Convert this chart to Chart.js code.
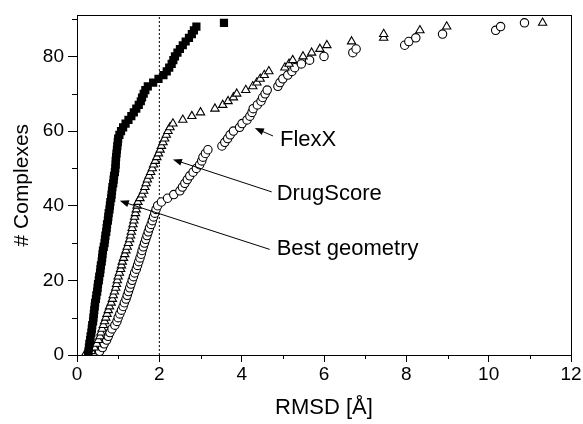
<!DOCTYPE html>
<html><head><meta charset="utf-8">
<script src="https://cdn.jsdelivr.net/npm/chart.js@4/dist/chart.umd.min.js"></script>
<style>html,body{margin:0;padding:0;background:#fff;}#wrap{width:583px;height:424px;}</style>
</head><body><div id="wrap"><canvas id="c" width="583" height="424"></canvas></div>
<script>
// cumulative number of complexes (y) for each sorted RMSD value
const complexCount = [0,1,2,3,4,5,6,7,8,9,10,11,12,13,14,15,16,17,18,19,20,21,22,23,24,25,26,27,28,29,30,31,32,33,34,35,36,37,38,39,40,41,42,43,44,45,46,47,48,49,50,51,52,53,54,55,56,57,58,59,60,61,62,63,64,65,66,67,68,69,70,71,72,73,74,75,76,77,78,79,80,81,82,83,84,85,86,87,88,89];

// RMSD [Å] values (sorted) per series
const bestGeometryRmsd = [0.27,0.28,0.29,0.30,0.32,0.33,0.35,0.36,0.37,0.39,0.40,0.41,0.42,0.43,0.44,0.46,0.47,0.49,0.50,0.51,0.53,0.54,0.56,0.57,0.58,0.60,0.61,0.62,0.63,0.65,0.67,0.68,0.69,0.71,0.72,0.73,0.75,0.76,0.77,0.79,0.80,0.81,0.83,0.84,0.85,0.86,0.88,0.89,0.90,0.92,0.93,0.94,0.94,0.95,0.96,0.97,0.98,0.99,1.00,1.03,1.07,1.12,1.18,1.25,1.32,1.38,1.44,1.50,1.55,1.58,1.62,1.66,1.72,1.85,1.98,2.10,2.18,2.24,2.30,2.34,2.38,2.44,2.50,2.57,2.64,2.72,2.79,2.84,2.90,3.57];

const drugScoreRmsd = [0.19,0.35,0.42,0.48,0.52,0.56,0.58,0.61,0.64,0.67,0.70,0.73,0.76,0.79,0.83,0.86,0.88,0.91,0.94,0.96,0.98,1.00,1.03,1.06,1.08,1.10,1.13,1.16,1.19,1.22,1.25,1.28,1.30,1.32,1.34,1.36,1.38,1.40,1.42,1.44,1.46,1.48,1.53,1.58,1.62,1.65,1.68,1.71,1.75,1.79,1.83,1.86,1.90,1.94,1.98,2.02,2.05,2.09,2.13,2.17,2.21,2.26,2.33,2.57,2.79,3.00,3.35,3.54,3.67,3.80,3.88,4.10,4.27,4.37,4.45,4.55,4.66,5.05,5.15,5.24,5.49,5.70,5.90,6.07,6.67,7.45,7.45,8.33,8.98,11.31];

const flexXRmsd = [0.45,0.55,0.62,0.66,0.72,0.76,0.80,0.85,0.92,0.97,1.00,1.04,1.08,1.12,1.15,1.19,1.22,1.25,1.28,1.31,1.34,1.37,1.40,1.44,1.47,1.50,1.53,1.56,1.58,1.61,1.64,1.67,1.70,1.73,1.76,1.80,1.83,1.86,1.89,1.92,1.96,2.05,2.20,2.35,2.50,2.56,2.62,2.68,2.74,2.82,2.90,2.98,3.03,3.06,3.12,3.18,3.52,3.59,3.66,3.72,3.80,3.95,4.01,4.13,4.20,4.25,4.28,4.38,4.47,4.51,4.57,4.62,4.88,4.93,5.00,5.12,5.22,5.29,5.45,5.65,6.00,6.70,6.78,7.96,8.06,8.23,8.88,10.17,10.29,10.87];

const xTickLabels = [0,2,4,6,8,10,12];
const yTickLabels = [0,20,40,60,80];
const cutoffRmsd = 2;

// label annotations (data coordinates)
const labelTexts = ['FlexX','DrugScore','Best geometry'];
const labelAnchors = [[4.93,57.6],[4.85,43.2],[4.85,28.4]];
const arrowTails = [[4.76,58.7],[4.73,43.7],[4.68,28.3]];
const arrowHeads = [[4.32,60.8],[2.33,52.4],[1.04,41.3]];

const FONT = "'Liberation Sans', Arial, Helvetica, sans-serif";
const toPts = (xs) => xs.map((x, i) => ({x: x, y: complexCount[i]}));

const decor = {
  id: 'decor',
  afterDatasetsDraw(chart) {
    const ctx = chart.ctx, a = chart.chartArea;
    const xs = chart.scales.x, ys = chart.scales.y;
    ctx.save();
    ctx.strokeStyle = '#000'; ctx.lineWidth = 1;
    ctx.strokeRect(Math.round(a.left) + 0.5, Math.round(a.top) + 0.5, Math.round(a.right - a.left), Math.round(a.bottom - a.top));
    // minor ticks
    ctx.beginPath();
    for (let v = 1; v < 12; v += 2) {
      const px = Math.round(xs.getPixelForValue(v)) + 0.5;
      ctx.moveTo(px, a.bottom); ctx.lineTo(px, a.bottom + 4);
    }
    for (let v = 10; v <= 90; v += 20) {
      const py = Math.round(ys.getPixelForValue(v)) + 0.5;
      ctx.moveTo(a.left - 5, py); ctx.lineTo(a.left, py);
    }
    ctx.stroke();
    // arrows + labels
    ctx.fillStyle = '#000';
    ctx.font = '22px ' + FONT;
    ctx.textBaseline = 'middle';
    ctx.textAlign = 'left';
    for (let i = 0; i < labelTexts.length; i++) {
      const x1 = xs.getPixelForValue(arrowTails[i][0]), y1 = ys.getPixelForValue(arrowTails[i][1]);
      const x2 = xs.getPixelForValue(arrowHeads[i][0]), y2 = ys.getPixelForValue(arrowHeads[i][1]);
      const ang = Math.atan2(y2 - y1, x2 - x1);
      const L = 9, W = 3.5;
      ctx.beginPath(); ctx.moveTo(x1, y1);
      ctx.lineTo(x2 - Math.cos(ang) * L * 0.8, y2 - Math.sin(ang) * L * 0.8);
      ctx.stroke();
      ctx.beginPath();
      ctx.moveTo(x2, y2);
      ctx.lineTo(x2 - Math.cos(ang) * L - Math.sin(ang) * W, y2 - Math.sin(ang) * L + Math.cos(ang) * W);
      ctx.lineTo(x2 - Math.cos(ang) * L + Math.sin(ang) * W, y2 - Math.sin(ang) * L - Math.cos(ang) * W);
      ctx.closePath(); ctx.fill();
      ctx.fillText(labelTexts[i], xs.getPixelForValue(labelAnchors[i][0]), ys.getPixelForValue(labelAnchors[i][1]));
    }
    ctx.restore();
  }
};

new Chart(document.getElementById('c'), {
  type: 'scatter',
  data: {
    datasets: [
      {label: 'Best geometry', data: toPts(bestGeometryRmsd), pointStyle: 'rect', pointRadius: 5.8, backgroundColor: '#000', borderColor: '#000', borderWidth: 0},
      {label: 'DrugScore', data: toPts(drugScoreRmsd), pointStyle: 'triangle', pointRadius: 4.8, backgroundColor: '#fff', borderColor: '#000', borderWidth: 1.1},
      {label: 'FlexX', data: toPts(flexXRmsd), pointStyle: 'circle', pointRadius: 4.2, backgroundColor: '#fff', borderColor: '#000', borderWidth: 1.1},
      {label: 'cutoff', type: 'line', data: [{x: cutoffRmsd, y: 0}, {x: cutoffRmsd, y: 91}], borderColor: '#000', borderWidth: 1, borderDash: [2, 2], pointRadius: 0, fill: false}
    ]
  },
  options: {
    responsive: false, animation: false,
    layout: {padding: {top: 12, right: 12, left: 0, bottom: 0}},
    plugins: {legend: {display: false}, tooltip: {enabled: false}},
    scales: {
      x: {
        type: 'linear', min: 0, max: 12,
        afterFit: (s) => { s.height = 69; },
        border: {display: true, color: '#000', width: 1},
        grid: {drawOnChartArea: false, drawTicks: true, tickLength: 7, tickWidth: 1,
          tickColor: (c) => (c.tick && xTickLabels.includes(c.tick.value)) ? '#000' : 'rgba(0,0,0,0)'},
        ticks: {stepSize: 1, autoSkip: false, maxRotation: 0, includeBounds: false, padding: 1, color: '#000',
          font: {family: FONT, size: 19},
          callback: (v) => xTickLabels.includes(v) ? String(v) : ''},
        title: {display: true, text: 'RMSD [Å]', color: '#000', font: {family: FONT, size: 22}, padding: {top: 0, bottom: 3}}
      },
      y: {
        type: 'linear', min: 0, max: 91,
        afterFit: (s) => { s.width = 77; },
        border: {display: true, color: '#000', width: 1},
        grid: {drawOnChartArea: false, drawTicks: true, tickLength: 9, tickWidth: 1,
          tickColor: (c) => (c.tick && yTickLabels.includes(c.tick.value)) ? '#000' : 'rgba(0,0,0,0)'},
        ticks: {stepSize: 10, autoSkip: false, includeBounds: false, padding: 4, color: '#000',
          font: {family: FONT, size: 19},
          callback: (v) => yTickLabels.includes(v) ? String(v) : ''},
        title: {display: true, text: '# Complexes', color: '#000', font: {family: FONT, size: 21}, padding: {top: 10, bottom: 0}}
      }
    }
  },
  plugins: [decor]
});
</script></body></html>
